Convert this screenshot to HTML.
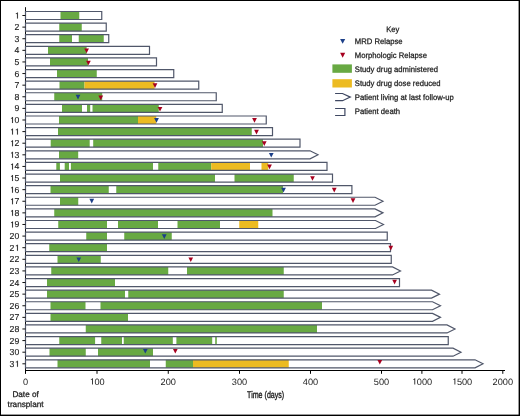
<!DOCTYPE html>
<html><head><meta charset="utf-8"><title>Swimmer plot</title>
<style>
html,body{margin:0;padding:0;background:#fff;}
body{width:520px;height:416px;overflow:hidden;position:relative;font-family:"Liberation Sans",sans-serif;}
svg{position:absolute;left:0;top:0;will-change:transform;}
text{font-family:"Liberation Sans",sans-serif;fill:#1a1a1a;stroke:#1a1a1a;stroke-width:0.25px;text-rendering:geometricPrecision;}
.yl{font-size:8.7px;stroke-width:0.12px;}
.xl{font-size:9.2px;stroke-width:0px;}
.dl{font-size:8.2px;}
.tl{font-size:9.7px;stroke-width:0.35px;}
.kl{font-size:8px;}
</style></head><body>
<svg width="520" height="416" viewBox="0 0 520 416">
<rect x="0" y="0" width="520" height="416" fill="#fff"/>
<line x1="25.5" y1="7.2" x2="25.5" y2="373.5" stroke="#111" stroke-width="1"/>
<path d="M25.5,11.5H101.75V19.5H25.5Z" fill="#fff"/>
<rect x="60.5" y="11.5" width="18.75" height="8" fill="#68a943"/>
<path d="M25.5,11.5H101.75V19.5H25.5Z" fill="none" stroke="#50576a" stroke-width="1.2" stroke-linejoin="miter"/>
<line x1="22.4" y1="15.5" x2="25.5" y2="15.5" stroke="#111" stroke-width="1"/>
<text x="14.46" y="18.5" class="yl"> </text>
<path d="M600,0L790,0L790,1409L670,1409L640,1340L580,1275L500,1225L410,1195L330,1180L330,1035L430,1050L520,1080L600,1125Z" transform="translate(14.46 18.5) scale(0.004248 -0.004248)" fill="#1a1a1a" stroke="#1a1a1a" stroke-width="28.2"/>
<path d="M25.5,23.11H106.25V31.11H25.5Z" fill="#fff"/>
<rect x="59.25" y="23.11" width="22.5" height="8" fill="#68a943"/>
<path d="M25.5,23.11H106.25V31.11H25.5Z" fill="none" stroke="#50576a" stroke-width="1.2" stroke-linejoin="miter"/>
<line x1="22.4" y1="27.11" x2="25.5" y2="27.11" stroke="#111" stroke-width="1"/>
<text x="14.46" y="30.11" class="yl">2</text>
<path d="M25.5,34.72H108.75V42.72H25.5Z" fill="#fff"/>
<rect x="59.25" y="34.72" width="12.75" height="8" fill="#68a943"/>
<rect x="78.75" y="34.72" width="25" height="8" fill="#68a943"/>
<path d="M25.5,34.72H108.75V42.72H25.5Z" fill="none" stroke="#50576a" stroke-width="1.2" stroke-linejoin="miter"/>
<line x1="22.4" y1="38.72" x2="25.5" y2="38.72" stroke="#111" stroke-width="1"/>
<text x="14.46" y="41.72" class="yl">3</text>
<path d="M25.5,46.33H149.5V54.33H25.5Z" fill="#fff"/>
<rect x="48" y="46.33" width="38.6" height="8" fill="#68a943"/>
<path d="M25.5,46.33H149.5V54.33H25.5Z" fill="none" stroke="#50576a" stroke-width="1.2" stroke-linejoin="miter"/>
<path d="M84.25,48.43H88.95L86.6,53.13Z" fill="#a6001f"/>
<line x1="22.4" y1="50.33" x2="25.5" y2="50.33" stroke="#111" stroke-width="1"/>
<text x="14.46" y="53.33" class="yl">4</text>
<path d="M25.5,57.94H156.5V65.94H25.5Z" fill="#fff"/>
<rect x="50" y="57.94" width="38" height="8" fill="#68a943"/>
<path d="M25.5,57.94H156.5V65.94H25.5Z" fill="none" stroke="#50576a" stroke-width="1.2" stroke-linejoin="miter"/>
<path d="M86.05,60.64H90.75L88.4,65.34Z" fill="#a6001f"/>
<line x1="22.4" y1="61.94" x2="25.5" y2="61.94" stroke="#111" stroke-width="1"/>
<text x="14.46" y="64.94" class="yl">5</text>
<path d="M25.5,69.55H173.75V77.55H25.5Z" fill="#fff"/>
<rect x="57" y="69.55" width="39.75" height="8" fill="#68a943"/>
<path d="M25.5,69.55H173.75V77.55H25.5Z" fill="none" stroke="#50576a" stroke-width="1.2" stroke-linejoin="miter"/>
<line x1="22.4" y1="73.55" x2="25.5" y2="73.55" stroke="#111" stroke-width="1"/>
<text x="14.46" y="76.55" class="yl">6</text>
<path d="M25.5,81.16H198.75V89.16H25.5Z" fill="#fff"/>
<rect x="59.5" y="81.16" width="25" height="8" fill="#68a943"/>
<rect x="84.5" y="81.16" width="70" height="8" fill="#ecbb22"/>
<path d="M25.5,81.16H198.75V89.16H25.5Z" fill="none" stroke="#50576a" stroke-width="1.2" stroke-linejoin="miter"/>
<path d="M152.65,83.26H157.35L155,87.96Z" fill="#a6001f"/>
<line x1="22.4" y1="85.16" x2="25.5" y2="85.16" stroke="#111" stroke-width="1"/>
<text x="14.46" y="88.16" class="yl">7</text>
<path d="M25.5,92.77H216.25V100.77H25.5Z" fill="#fff"/>
<rect x="54.25" y="92.77" width="47.95" height="8" fill="#68a943"/>
<path d="M25.5,92.77H216.25V100.77H25.5Z" fill="none" stroke="#50576a" stroke-width="1.2" stroke-linejoin="miter"/>
<path d="M75.65,94.87H80.35L78,99.57Z" fill="#1c3f88"/>
<path d="M98.4,95.47H103.1L100.75,100.17Z" fill="#a6001f"/>
<line x1="22.4" y1="96.77" x2="25.5" y2="96.77" stroke="#111" stroke-width="1"/>
<text x="14.46" y="99.77" class="yl">8</text>
<path d="M25.5,104.38H222.25V112.38H25.5Z" fill="#fff"/>
<rect x="62" y="104.38" width="20" height="8" fill="#68a943"/>
<rect x="87" y="104.38" width="3.2" height="8" fill="#68a943"/>
<rect x="92.5" y="104.38" width="66.25" height="8" fill="#68a943"/>
<path d="M25.5,104.38H222.25V112.38H25.5Z" fill="none" stroke="#50576a" stroke-width="1.2" stroke-linejoin="miter"/>
<path d="M157.65,106.88H162.35L160,111.58Z" fill="#a6001f"/>
<line x1="22.4" y1="108.38" x2="25.5" y2="108.38" stroke="#111" stroke-width="1"/>
<text x="14.46" y="111.38" class="yl">9</text>
<path d="M25.5,115.99H266.25V123.99H25.5Z" fill="#fff"/>
<rect x="59" y="115.99" width="79" height="8" fill="#68a943"/>
<rect x="138" y="115.99" width="18.25" height="8" fill="#ecbb22"/>
<path d="M25.5,115.99H266.25V123.99H25.5Z" fill="none" stroke="#50576a" stroke-width="1.2" stroke-linejoin="miter"/>
<path d="M154.15,118.09H158.85L156.5,122.79Z" fill="#1c3f88"/>
<path d="M252.15,118.09H256.85L254.5,122.79Z" fill="#a6001f"/>
<line x1="22.4" y1="119.99" x2="25.5" y2="119.99" stroke="#111" stroke-width="1"/>
<text x="9.62" y="122.99" class="yl"> 0</text>
<path d="M600,0L790,0L790,1409L670,1409L640,1340L580,1275L500,1225L410,1195L330,1180L330,1035L430,1050L520,1080L600,1125Z" transform="translate(9.62 122.99) scale(0.004248 -0.004248)" fill="#1a1a1a" stroke="#1a1a1a" stroke-width="28.2"/>
<path d="M25.5,127.6H272.5V135.6H25.5Z" fill="#fff"/>
<rect x="58" y="127.6" width="193.75" height="8" fill="#68a943"/>
<path d="M25.5,127.6H272.5V135.6H25.5Z" fill="none" stroke="#50576a" stroke-width="1.2" stroke-linejoin="miter"/>
<path d="M254.15,129.7H258.85L256.5,134.4Z" fill="#a6001f"/>
<line x1="22.4" y1="131.6" x2="25.5" y2="131.6" stroke="#111" stroke-width="1"/>
<text x="9.62" y="134.6" class="yl">  </text>
<path d="M600,0L790,0L790,1409L670,1409L640,1340L580,1275L500,1225L410,1195L330,1180L330,1035L430,1050L520,1080L600,1125Z" transform="translate(9.62 134.6) scale(0.004248 -0.004248)" fill="#1a1a1a" stroke="#1a1a1a" stroke-width="28.2"/>
<path d="M600,0L790,0L790,1409L670,1409L640,1340L580,1275L500,1225L410,1195L330,1180L330,1035L430,1050L520,1080L600,1125Z" transform="translate(14.46 134.6) scale(0.004248 -0.004248)" fill="#1a1a1a" stroke="#1a1a1a" stroke-width="28.2"/>
<path d="M25.5,139.21H300V147.21H25.5Z" fill="#fff"/>
<rect x="50.7" y="139.21" width="39" height="8" fill="#68a943"/>
<rect x="93.2" y="139.21" width="169.8" height="8" fill="#68a943"/>
<path d="M25.5,139.21H300V147.21H25.5Z" fill="none" stroke="#50576a" stroke-width="1.2" stroke-linejoin="miter"/>
<path d="M261.9,141.31H266.6L264.25,146.01Z" fill="#a6001f"/>
<line x1="22.4" y1="143.21" x2="25.5" y2="143.21" stroke="#111" stroke-width="1"/>
<text x="9.62" y="146.21" class="yl"> 2</text>
<path d="M600,0L790,0L790,1409L670,1409L640,1340L580,1275L500,1225L410,1195L330,1180L330,1035L430,1050L520,1080L600,1125Z" transform="translate(9.62 146.21) scale(0.004248 -0.004248)" fill="#1a1a1a" stroke="#1a1a1a" stroke-width="28.2"/>
<path d="M25.5,150.82H310L318,154.82L310,158.82H25.5Z" fill="#fff"/>
<rect x="59" y="150.82" width="19.2" height="8" fill="#68a943"/>
<path d="M25.5,150.82H310L318,154.82L310,158.82H25.5Z" fill="none" stroke="#50576a" stroke-width="1.2" stroke-linejoin="miter"/>
<path d="M268.9,152.92H273.6L271.25,157.62Z" fill="#1c3f88"/>
<line x1="22.4" y1="154.82" x2="25.5" y2="154.82" stroke="#111" stroke-width="1"/>
<text x="9.62" y="157.82" class="yl"> 3</text>
<path d="M600,0L790,0L790,1409L670,1409L640,1340L580,1275L500,1225L410,1195L330,1180L330,1035L430,1050L520,1080L600,1125Z" transform="translate(9.62 157.82) scale(0.004248 -0.004248)" fill="#1a1a1a" stroke="#1a1a1a" stroke-width="28.2"/>
<path d="M25.5,162.43H327V170.43H25.5Z" fill="#fff"/>
<rect x="56.3" y="162.43" width="3.6" height="8" fill="#68a943"/>
<rect x="64.7" y="162.43" width="4.3" height="8" fill="#68a943"/>
<rect x="70.9" y="162.43" width="82.1" height="8" fill="#68a943"/>
<rect x="158.25" y="162.43" width="53" height="8" fill="#68a943"/>
<rect x="211.25" y="162.43" width="38.75" height="8" fill="#ecbb22"/>
<rect x="261.5" y="162.43" width="6.75" height="8" fill="#ecbb22"/>
<path d="M25.5,162.43H327V170.43H25.5Z" fill="none" stroke="#50576a" stroke-width="1.2" stroke-linejoin="miter"/>
<path d="M267.15,164.53H271.85L269.5,169.23Z" fill="#a6001f"/>
<line x1="22.4" y1="166.43" x2="25.5" y2="166.43" stroke="#111" stroke-width="1"/>
<text x="9.62" y="169.43" class="yl"> 4</text>
<path d="M600,0L790,0L790,1409L670,1409L640,1340L580,1275L500,1225L410,1195L330,1180L330,1035L430,1050L520,1080L600,1125Z" transform="translate(9.62 169.43) scale(0.004248 -0.004248)" fill="#1a1a1a" stroke="#1a1a1a" stroke-width="28.2"/>
<path d="M25.5,174.04H332.5V182.04H25.5Z" fill="#fff"/>
<rect x="60" y="174.04" width="155" height="8" fill="#68a943"/>
<rect x="234.5" y="174.04" width="59.25" height="8" fill="#68a943"/>
<path d="M25.5,174.04H332.5V182.04H25.5Z" fill="none" stroke="#50576a" stroke-width="1.2" stroke-linejoin="miter"/>
<path d="M310.15,176.14H314.85L312.5,180.84Z" fill="#a6001f"/>
<line x1="22.4" y1="178.04" x2="25.5" y2="178.04" stroke="#111" stroke-width="1"/>
<text x="9.62" y="181.04" class="yl"> 5</text>
<path d="M600,0L790,0L790,1409L670,1409L640,1340L580,1275L500,1225L410,1195L330,1180L330,1035L430,1050L520,1080L600,1125Z" transform="translate(9.62 181.04) scale(0.004248 -0.004248)" fill="#1a1a1a" stroke="#1a1a1a" stroke-width="28.2"/>
<path d="M25.5,185.65H351.9V193.65H25.5Z" fill="#fff"/>
<rect x="50.5" y="185.65" width="58.25" height="8" fill="#68a943"/>
<rect x="116.25" y="185.65" width="166.75" height="8" fill="#68a943"/>
<path d="M25.5,185.65H351.9V193.65H25.5Z" fill="none" stroke="#50576a" stroke-width="1.2" stroke-linejoin="miter"/>
<path d="M281.15,187.75H285.85L283.5,192.45Z" fill="#1c3f88"/>
<path d="M331.9,187.75H336.6L334.25,192.45Z" fill="#a6001f"/>
<line x1="22.4" y1="189.65" x2="25.5" y2="189.65" stroke="#111" stroke-width="1"/>
<text x="9.62" y="192.65" class="yl"> 6</text>
<path d="M600,0L790,0L790,1409L670,1409L640,1340L580,1275L500,1225L410,1195L330,1180L330,1035L430,1050L520,1080L600,1125Z" transform="translate(9.62 192.65) scale(0.004248 -0.004248)" fill="#1a1a1a" stroke="#1a1a1a" stroke-width="28.2"/>
<path d="M25.5,197.26H375L383,201.26L375,205.26H25.5Z" fill="#fff"/>
<rect x="60" y="197.26" width="18.25" height="8" fill="#68a943"/>
<path d="M25.5,197.26H375L383,201.26L375,205.26H25.5Z" fill="none" stroke="#50576a" stroke-width="1.2" stroke-linejoin="miter"/>
<path d="M89.4,198.86H94.1L91.75,203.56Z" fill="#1c3f88"/>
<path d="M350.65,198.36H355.35L353,203.06Z" fill="#a6001f"/>
<line x1="22.4" y1="201.26" x2="25.5" y2="201.26" stroke="#111" stroke-width="1"/>
<text x="9.62" y="204.26" class="yl"> 7</text>
<path d="M600,0L790,0L790,1409L670,1409L640,1340L580,1275L500,1225L410,1195L330,1180L330,1035L430,1050L520,1080L600,1125Z" transform="translate(9.62 204.26) scale(0.004248 -0.004248)" fill="#1a1a1a" stroke="#1a1a1a" stroke-width="28.2"/>
<path d="M25.5,208.87H375L383,212.87L375,216.87H25.5Z" fill="#fff"/>
<rect x="54.25" y="208.87" width="218.25" height="8" fill="#68a943"/>
<path d="M25.5,208.87H375L383,212.87L375,216.87H25.5Z" fill="none" stroke="#50576a" stroke-width="1.2" stroke-linejoin="miter"/>
<line x1="22.4" y1="212.87" x2="25.5" y2="212.87" stroke="#111" stroke-width="1"/>
<text x="9.62" y="215.87" class="yl"> 8</text>
<path d="M600,0L790,0L790,1409L670,1409L640,1340L580,1275L500,1225L410,1195L330,1180L330,1035L430,1050L520,1080L600,1125Z" transform="translate(9.62 215.87) scale(0.004248 -0.004248)" fill="#1a1a1a" stroke="#1a1a1a" stroke-width="28.2"/>
<path d="M25.5,220.48H375.5L383.5,224.48L375.5,228.48H25.5Z" fill="#fff"/>
<rect x="58.25" y="220.48" width="48.75" height="8" fill="#68a943"/>
<rect x="118" y="220.48" width="40" height="8" fill="#68a943"/>
<rect x="177.5" y="220.48" width="42.5" height="8" fill="#68a943"/>
<rect x="239.25" y="220.48" width="19" height="8" fill="#ecbb22"/>
<path d="M25.5,220.48H375.5L383.5,224.48L375.5,228.48H25.5Z" fill="none" stroke="#50576a" stroke-width="1.2" stroke-linejoin="miter"/>
<line x1="22.4" y1="224.48" x2="25.5" y2="224.48" stroke="#111" stroke-width="1"/>
<text x="9.62" y="227.48" class="yl"> 9</text>
<path d="M600,0L790,0L790,1409L670,1409L640,1340L580,1275L500,1225L410,1195L330,1180L330,1035L430,1050L520,1080L600,1125Z" transform="translate(9.62 227.48) scale(0.004248 -0.004248)" fill="#1a1a1a" stroke="#1a1a1a" stroke-width="28.2"/>
<path d="M25.5,232.09H387.25V240.09H25.5Z" fill="#fff"/>
<rect x="86.25" y="232.09" width="20.75" height="8" fill="#68a943"/>
<rect x="124.25" y="232.09" width="47.5" height="8" fill="#68a943"/>
<path d="M25.5,232.09H387.25V240.09H25.5Z" fill="none" stroke="#50576a" stroke-width="1.2" stroke-linejoin="miter"/>
<path d="M161.9,234.19H166.6L164.25,238.89Z" fill="#1c3f88"/>
<line x1="22.4" y1="236.09" x2="25.5" y2="236.09" stroke="#111" stroke-width="1"/>
<text x="9.62" y="239.09" class="yl">20</text>
<path d="M25.5,243.7H390.5V251.7H25.5Z" fill="#fff"/>
<rect x="49.25" y="243.7" width="57.75" height="8" fill="#68a943"/>
<path d="M25.5,243.7H390.5V251.7H25.5Z" fill="none" stroke="#50576a" stroke-width="1.2" stroke-linejoin="miter"/>
<path d="M388.45,245.8H393.15L390.8,250.5Z" fill="#a6001f"/>
<line x1="22.4" y1="247.7" x2="25.5" y2="247.7" stroke="#111" stroke-width="1"/>
<text x="9.62" y="250.7" class="yl">2 </text>
<path d="M600,0L790,0L790,1409L670,1409L640,1340L580,1275L500,1225L410,1195L330,1180L330,1035L430,1050L520,1080L600,1125Z" transform="translate(14.46 250.7) scale(0.004248 -0.004248)" fill="#1a1a1a" stroke="#1a1a1a" stroke-width="28.2"/>
<path d="M25.5,255.31H391.25V263.31H25.5Z" fill="#fff"/>
<rect x="57.5" y="255.31" width="43.25" height="8" fill="#68a943"/>
<path d="M25.5,255.31H391.25V263.31H25.5Z" fill="none" stroke="#50576a" stroke-width="1.2" stroke-linejoin="miter"/>
<path d="M76.4,257.41H81.1L78.75,262.11Z" fill="#1c3f88"/>
<path d="M188.4,257.41H193.1L190.75,262.11Z" fill="#a6001f"/>
<line x1="22.4" y1="259.31" x2="25.5" y2="259.31" stroke="#111" stroke-width="1"/>
<text x="9.62" y="262.31" class="yl">22</text>
<path d="M25.5,266.92H392.5L400.5,270.92L392.5,274.92H25.5Z" fill="#fff"/>
<rect x="51.25" y="266.92" width="117" height="8" fill="#68a943"/>
<rect x="187" y="266.92" width="96.75" height="8" fill="#68a943"/>
<path d="M25.5,266.92H392.5L400.5,270.92L392.5,274.92H25.5Z" fill="none" stroke="#50576a" stroke-width="1.2" stroke-linejoin="miter"/>
<line x1="22.4" y1="270.92" x2="25.5" y2="270.92" stroke="#111" stroke-width="1"/>
<text x="9.62" y="273.92" class="yl">23</text>
<path d="M25.5,278.53H399.5V286.53H25.5Z" fill="#fff"/>
<rect x="47" y="278.53" width="68" height="8" fill="#68a943"/>
<path d="M25.5,278.53H399.5V286.53H25.5Z" fill="none" stroke="#50576a" stroke-width="1.2" stroke-linejoin="miter"/>
<path d="M392.25,279.83H396.95L394.6,284.53Z" fill="#a6001f"/>
<line x1="22.4" y1="282.53" x2="25.5" y2="282.53" stroke="#111" stroke-width="1"/>
<text x="9.62" y="285.53" class="yl">24</text>
<path d="M25.5,290.14H431.5L439.5,294.14L431.5,298.14H25.5Z" fill="#fff"/>
<rect x="47" y="290.14" width="78" height="8" fill="#68a943"/>
<rect x="128.25" y="290.14" width="155.5" height="8" fill="#68a943"/>
<path d="M25.5,290.14H431.5L439.5,294.14L431.5,298.14H25.5Z" fill="none" stroke="#50576a" stroke-width="1.2" stroke-linejoin="miter"/>
<line x1="22.4" y1="294.14" x2="25.5" y2="294.14" stroke="#111" stroke-width="1"/>
<text x="9.62" y="297.14" class="yl">25</text>
<path d="M25.5,301.75H432.5L440.5,305.75L432.5,309.75H25.5Z" fill="#fff"/>
<rect x="50.5" y="301.75" width="35" height="8" fill="#68a943"/>
<rect x="100.5" y="301.75" width="221.5" height="8" fill="#68a943"/>
<path d="M25.5,301.75H432.5L440.5,305.75L432.5,309.75H25.5Z" fill="none" stroke="#50576a" stroke-width="1.2" stroke-linejoin="miter"/>
<line x1="22.4" y1="305.75" x2="25.5" y2="305.75" stroke="#111" stroke-width="1"/>
<text x="9.62" y="308.75" class="yl">26</text>
<path d="M25.5,313.36H432.5L440.5,317.36L432.5,321.36H25.5Z" fill="#fff"/>
<rect x="50.5" y="313.36" width="77.5" height="8" fill="#68a943"/>
<path d="M25.5,313.36H432.5L440.5,317.36L432.5,321.36H25.5Z" fill="none" stroke="#50576a" stroke-width="1.2" stroke-linejoin="miter"/>
<line x1="22.4" y1="317.36" x2="25.5" y2="317.36" stroke="#111" stroke-width="1"/>
<text x="9.62" y="320.36" class="yl">27</text>
<path d="M25.5,324.97H447L455,328.97L447,332.97H25.5Z" fill="#fff"/>
<rect x="85.75" y="324.97" width="231.25" height="8" fill="#68a943"/>
<path d="M25.5,324.97H447L455,328.97L447,332.97H25.5Z" fill="none" stroke="#50576a" stroke-width="1.2" stroke-linejoin="miter"/>
<line x1="22.4" y1="328.97" x2="25.5" y2="328.97" stroke="#111" stroke-width="1"/>
<text x="9.62" y="331.97" class="yl">28</text>
<path d="M25.5,336.58H448.25V344.58H25.5Z" fill="#fff"/>
<rect x="59.25" y="336.58" width="35.85" height="8" fill="#68a943"/>
<rect x="101.25" y="336.58" width="20.75" height="8" fill="#68a943"/>
<rect x="123.75" y="336.58" width="49.05" height="8" fill="#68a943"/>
<rect x="176.4" y="336.58" width="35.8" height="8" fill="#68a943"/>
<rect x="215.2" y="336.58" width="1.6" height="8" fill="#68a943"/>
<path d="M25.5,336.58H448.25V344.58H25.5Z" fill="none" stroke="#50576a" stroke-width="1.2" stroke-linejoin="miter"/>
<line x1="22.4" y1="340.58" x2="25.5" y2="340.58" stroke="#111" stroke-width="1"/>
<text x="9.62" y="343.58" class="yl">29</text>
<path d="M25.5,348.19H453L461,352.19L453,356.19H25.5Z" fill="#fff"/>
<rect x="49.5" y="348.19" width="36.25" height="8" fill="#68a943"/>
<rect x="98" y="348.19" width="55" height="8" fill="#68a943"/>
<path d="M25.5,348.19H453L461,352.19L453,356.19H25.5Z" fill="none" stroke="#50576a" stroke-width="1.2" stroke-linejoin="miter"/>
<path d="M142.95,348.89H147.65L145.3,353.59Z" fill="#1c3f88"/>
<path d="M172.95,348.89H177.65L175.3,353.59Z" fill="#a6001f"/>
<line x1="22.4" y1="352.19" x2="25.5" y2="352.19" stroke="#111" stroke-width="1"/>
<text x="9.62" y="355.19" class="yl">30</text>
<path d="M25.5,359.8H475L483,363.8L475,367.8H25.5Z" fill="#fff"/>
<rect x="57.5" y="359.8" width="92.5" height="8" fill="#68a943"/>
<rect x="165.75" y="359.8" width="27.25" height="8" fill="#68a943"/>
<rect x="193" y="359.8" width="95.75" height="8" fill="#ecbb22"/>
<path d="M25.5,359.8H475L483,363.8L475,367.8H25.5Z" fill="none" stroke="#50576a" stroke-width="1.2" stroke-linejoin="miter"/>
<path d="M377.45,359.9H382.15L379.8,364.6Z" fill="#a6001f"/>
<line x1="22.4" y1="363.8" x2="25.5" y2="363.8" stroke="#111" stroke-width="1"/>
<text x="9.62" y="366.8" class="yl">3 </text>
<path d="M600,0L790,0L790,1409L670,1409L640,1340L580,1275L500,1225L410,1195L330,1180L330,1035L430,1050L520,1080L600,1125Z" transform="translate(14.46 366.8) scale(0.004248 -0.004248)" fill="#1a1a1a" stroke="#1a1a1a" stroke-width="28.2"/>
<line x1="25.0" y1="370.5" x2="505" y2="370.5" stroke="#000" stroke-width="1"/>
<line x1="25.5" y1="370.5" x2="25.5" y2="373.8" stroke="#000" stroke-width="1"/>
<text x="22.94" y="384.5" class="xl">0</text>
<line x1="97" y1="370.5" x2="97" y2="373.8" stroke="#000" stroke-width="1"/>
<text x="89.33" y="384.5" class="xl"> 00</text>
<path d="M600,0L790,0L790,1409L670,1409L640,1340L580,1275L500,1225L410,1195L330,1180L330,1035L430,1050L520,1080L600,1125Z" transform="translate(89.33 384.5) scale(0.004492 -0.004492)" fill="#1a1a1a" stroke="#1a1a1a" stroke-width="0.0"/>
<line x1="168.25" y1="370.5" x2="168.25" y2="373.8" stroke="#000" stroke-width="1"/>
<text x="160.58" y="384.5" class="xl">200</text>
<line x1="239.5" y1="370.5" x2="239.5" y2="373.8" stroke="#000" stroke-width="1"/>
<text x="231.83" y="384.5" class="xl">300</text>
<line x1="310.5" y1="370.5" x2="310.5" y2="373.8" stroke="#000" stroke-width="1"/>
<text x="302.83" y="384.5" class="xl">400</text>
<line x1="381.5" y1="370.5" x2="381.5" y2="373.8" stroke="#000" stroke-width="1"/>
<text x="373.83" y="384.5" class="xl">500</text>
<line x1="421.9" y1="370.5" x2="421.9" y2="373.8" stroke="#000" stroke-width="1"/>
<text x="411.67" y="384.5" class="xl"> 000</text>
<path d="M600,0L790,0L790,1409L670,1409L640,1340L580,1275L500,1225L410,1195L330,1180L330,1035L430,1050L520,1080L600,1125Z" transform="translate(411.67 384.5) scale(0.004492 -0.004492)" fill="#1a1a1a" stroke="#1a1a1a" stroke-width="0.0"/>
<line x1="462" y1="370.5" x2="462" y2="373.8" stroke="#000" stroke-width="1"/>
<text x="451.77" y="384.5" class="xl"> 500</text>
<path d="M600,0L790,0L790,1409L670,1409L640,1340L580,1275L500,1225L410,1195L330,1180L330,1035L430,1050L520,1080L600,1125Z" transform="translate(451.77 384.5) scale(0.004492 -0.004492)" fill="#1a1a1a" stroke="#1a1a1a" stroke-width="0.0"/>
<line x1="502.8" y1="370.5" x2="502.8" y2="373.8" stroke="#000" stroke-width="1"/>
<text x="492.57" y="384.5" class="xl">2000</text>
<text x="25.6" y="397" text-anchor="middle" class="dl">Date of</text>
<text x="25.6" y="406.6" text-anchor="middle" class="dl">transplant</text>
<text x="247.1" y="397.9" class="tl" textLength="37.1" lengthAdjust="spacingAndGlyphs">Time (days)</text>
<text x="392.75" y="32.2" text-anchor="middle" class="kl" textLength="13.1" lengthAdjust="spacingAndGlyphs">Key</text>
<path d="M340.1,38.9H345.2L342.65,43.8Z" fill="#1c3f88"/>
<text x="354.8" y="44" class="kl" textLength="47.80" lengthAdjust="spacingAndGlyphs">MRD Relapse</text>
<path d="M340.1,52.8H345.2L342.65,57.8Z" fill="#a6001f"/>
<text x="354.8" y="58" class="kl" textLength="72.15" lengthAdjust="spacingAndGlyphs">Morphologic Relapse</text>
<rect x="332.4" y="64.4" width="19.5" height="8.4" fill="#68a943"/>
<text x="354.8" y="72" class="kl" textLength="83.24" lengthAdjust="spacingAndGlyphs">Study drug administered</text>
<rect x="332.4" y="79.2" width="19.5" height="8.3" fill="#ecbb22"/>
<text x="354.8" y="86" class="kl" textLength="85.82" lengthAdjust="spacingAndGlyphs">Study drug dose reduced</text>
<path d="M335.1,93.5H342.5L350.3,97.1L342.5,100.7H335.1" fill="none" stroke="#3f4862" stroke-width="1.2"/>
<text x="354.8" y="100" class="kl" textLength="99.04" lengthAdjust="spacingAndGlyphs">Patient living at last follow-up</text>
<path d="M335.1,108.5H344.9V115.5H335.1" fill="none" stroke="#3f4862" stroke-width="1.2"/>
<text x="354.8" y="114" class="kl" textLength="45.27" lengthAdjust="spacingAndGlyphs">Patient death</text>
<rect x="0" y="0" width="520" height="1" fill="#000"/>
<rect x="0" y="0" width="1" height="416" fill="#000"/>
<rect x="518.6" y="0" width="1.4" height="416" fill="#000"/>
<rect x="0" y="414.6" width="520" height="1.4" fill="#000"/>
</svg>
</body></html>
